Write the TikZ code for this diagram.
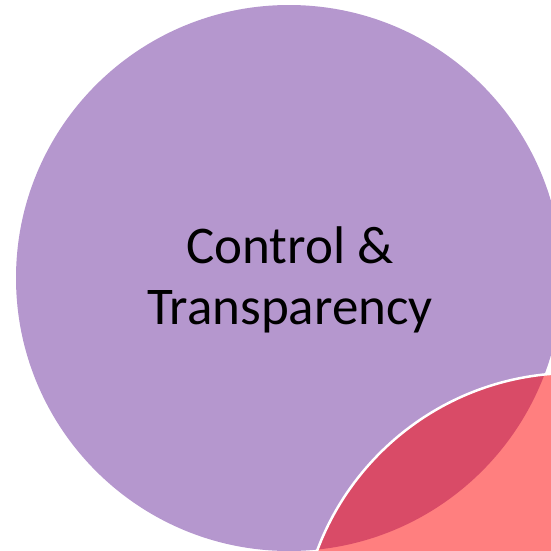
\documentclass[tikz,border=0pt]{standalone}
\usepackage{fontspec}
\setmainfont{Carlito}
\definecolor{vpurple}{RGB}{181,151,206}
\definecolor{vred}{RGB}{255,127,127}
\definecolor{vmix}{RGB}{217,75,103}
\tikzset{
  setA/.style={fill=vpurple, draw=none},
  setB/.style={fill=vred, draw=none},
  setBorder/.style={draw=white, line width=2.5pt},
  lbl/.style={font=\fontsize{53}{61}\selectfont, align=center, text=black}
}
\begin{document}
\begin{tikzpicture}[x=1pt,y=-1pt]
\useasboundingbox (0,0) rectangle (551,550);
\begin{scope}
\clip (0,0) rectangle (551,550);
\coordinate (ca) at (289,278);
\coordinate (cb) at (573,646);
\fill[setA] (ca) circle[radius=273pt];
\fill[setB] (cb) circle[radius=273pt];
\begin{scope}
\clip (ca) circle[radius=273pt];
\fill[vmix] (cb) circle[radius=273pt];
\end{scope}
\draw[setBorder] (cb) circle[radius=273pt];
\end{scope}
\node[lbl] (t) at (290,280) {Control \&\\Transparency};
\end{tikzpicture}
\end{document}
